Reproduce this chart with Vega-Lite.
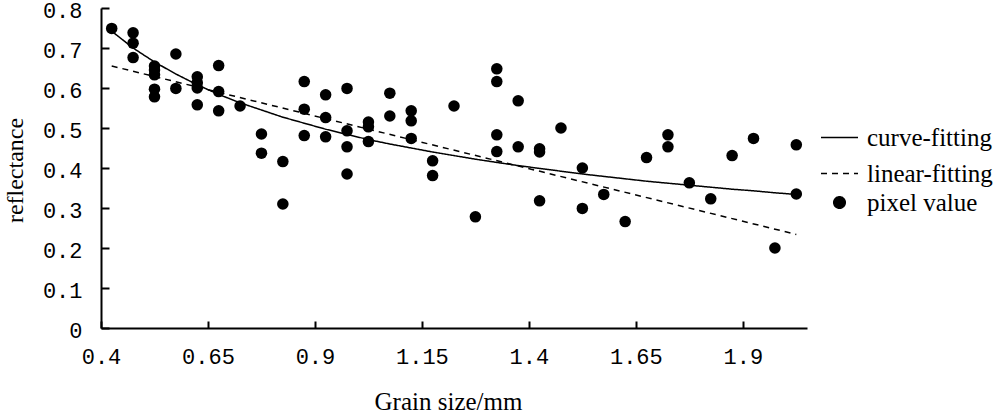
{
  "$schema": "https://vega.github.io/schema/vega-lite/v6.json",
  "autosize": "none",
  "width": 706,
  "height": 320,
  "padding": {"left": 101, "top": 8, "right": 193, "bottom": 88},
  "background": "white",
  "config": {"view": {"stroke": null}},
  "datasets": {
    "pts": [
      {"g": 0.4, "r": 0.749, "series": "pixel value"},
      {"g": 0.45, "r": 0.738, "series": "pixel value"},
      {"g": 0.45, "r": 0.712, "series": "pixel value"},
      {"g": 0.45, "r": 0.676, "series": "pixel value"},
      {"g": 0.5, "r": 0.655, "series": "pixel value"},
      {"g": 0.5, "r": 0.645, "series": "pixel value"},
      {"g": 0.5, "r": 0.633, "series": "pixel value"},
      {"g": 0.5, "r": 0.597, "series": "pixel value"},
      {"g": 0.5, "r": 0.578, "series": "pixel value"},
      {"g": 0.55, "r": 0.685, "series": "pixel value"},
      {"g": 0.55, "r": 0.599, "series": "pixel value"},
      {"g": 0.6, "r": 0.628, "series": "pixel value"},
      {"g": 0.6, "r": 0.613, "series": "pixel value"},
      {"g": 0.6, "r": 0.6, "series": "pixel value"},
      {"g": 0.6, "r": 0.558, "series": "pixel value"},
      {"g": 0.65, "r": 0.656, "series": "pixel value"},
      {"g": 0.65, "r": 0.591, "series": "pixel value"},
      {"g": 0.65, "r": 0.543, "series": "pixel value"},
      {"g": 0.7, "r": 0.555, "series": "pixel value"},
      {"g": 0.75, "r": 0.485, "series": "pixel value"},
      {"g": 0.75, "r": 0.437, "series": "pixel value"},
      {"g": 0.8, "r": 0.416, "series": "pixel value"},
      {"g": 0.8, "r": 0.31, "series": "pixel value"},
      {"g": 0.85, "r": 0.616, "series": "pixel value"},
      {"g": 0.85, "r": 0.547, "series": "pixel value"},
      {"g": 0.85, "r": 0.481, "series": "pixel value"},
      {"g": 0.9, "r": 0.583, "series": "pixel value"},
      {"g": 0.9, "r": 0.526, "series": "pixel value"},
      {"g": 0.9, "r": 0.478, "series": "pixel value"},
      {"g": 0.95, "r": 0.599, "series": "pixel value"},
      {"g": 0.95, "r": 0.493, "series": "pixel value"},
      {"g": 0.95, "r": 0.453, "series": "pixel value"},
      {"g": 0.95, "r": 0.385, "series": "pixel value"},
      {"g": 1.0, "r": 0.515, "series": "pixel value"},
      {"g": 1.0, "r": 0.503, "series": "pixel value"},
      {"g": 1.0, "r": 0.466, "series": "pixel value"},
      {"g": 1.05, "r": 0.587, "series": "pixel value"},
      {"g": 1.05, "r": 0.53, "series": "pixel value"},
      {"g": 1.1, "r": 0.543, "series": "pixel value"},
      {"g": 1.1, "r": 0.518, "series": "pixel value"},
      {"g": 1.1, "r": 0.474, "series": "pixel value"},
      {"g": 1.15, "r": 0.418, "series": "pixel value"},
      {"g": 1.15, "r": 0.381, "series": "pixel value"},
      {"g": 1.2, "r": 0.555, "series": "pixel value"},
      {"g": 1.25, "r": 0.278, "series": "pixel value"},
      {"g": 1.3, "r": 0.648, "series": "pixel value"},
      {"g": 1.3, "r": 0.616, "series": "pixel value"},
      {"g": 1.3, "r": 0.483, "series": "pixel value"},
      {"g": 1.3, "r": 0.441, "series": "pixel value"},
      {"g": 1.35, "r": 0.568, "series": "pixel value"},
      {"g": 1.35, "r": 0.453, "series": "pixel value"},
      {"g": 1.4, "r": 0.448, "series": "pixel value"},
      {"g": 1.4, "r": 0.44, "series": "pixel value"},
      {"g": 1.4, "r": 0.318, "series": "pixel value"},
      {"g": 1.45, "r": 0.5, "series": "pixel value"},
      {"g": 1.5, "r": 0.4, "series": "pixel value"},
      {"g": 1.5, "r": 0.299, "series": "pixel value"},
      {"g": 1.55, "r": 0.334, "series": "pixel value"},
      {"g": 1.6, "r": 0.266, "series": "pixel value"},
      {"g": 1.65, "r": 0.426, "series": "pixel value"},
      {"g": 1.7, "r": 0.483, "series": "pixel value"},
      {"g": 1.7, "r": 0.453, "series": "pixel value"},
      {"g": 1.75, "r": 0.363, "series": "pixel value"},
      {"g": 1.8, "r": 0.323, "series": "pixel value"},
      {"g": 1.85, "r": 0.431, "series": "pixel value"},
      {"g": 1.9, "r": 0.474, "series": "pixel value"},
      {"g": 1.95, "r": 0.2, "series": "pixel value"},
      {"g": 2.0, "r": 0.458, "series": "pixel value"},
      {"g": 2.0, "r": 0.335, "series": "pixel value"}
    ],
    "fits": [
      {"g": 0.4, "r": 0.742, "series": "curve-fitting"},
      {"g": 0.45, "r": 0.7, "series": "curve-fitting"},
      {"g": 0.5, "r": 0.665, "series": "curve-fitting"},
      {"g": 0.55, "r": 0.635, "series": "curve-fitting"},
      {"g": 0.6, "r": 0.608, "series": "curve-fitting"},
      {"g": 0.65, "r": 0.584, "series": "curve-fitting"},
      {"g": 0.7, "r": 0.563, "series": "curve-fitting"},
      {"g": 0.75, "r": 0.545, "series": "curve-fitting"},
      {"g": 0.8, "r": 0.527, "series": "curve-fitting"},
      {"g": 0.85, "r": 0.512, "series": "curve-fitting"},
      {"g": 0.9, "r": 0.497, "series": "curve-fitting"},
      {"g": 0.95, "r": 0.484, "series": "curve-fitting"},
      {"g": 1.0, "r": 0.471, "series": "curve-fitting"},
      {"g": 1.05, "r": 0.46, "series": "curve-fitting"},
      {"g": 1.1, "r": 0.45, "series": "curve-fitting"},
      {"g": 1.15, "r": 0.44, "series": "curve-fitting"},
      {"g": 1.2, "r": 0.431, "series": "curve-fitting"},
      {"g": 1.25, "r": 0.422, "series": "curve-fitting"},
      {"g": 1.3, "r": 0.414, "series": "curve-fitting"},
      {"g": 1.35, "r": 0.406, "series": "curve-fitting"},
      {"g": 1.4, "r": 0.399, "series": "curve-fitting"},
      {"g": 1.45, "r": 0.392, "series": "curve-fitting"},
      {"g": 1.5, "r": 0.385, "series": "curve-fitting"},
      {"g": 1.55, "r": 0.379, "series": "curve-fitting"},
      {"g": 1.6, "r": 0.373, "series": "curve-fitting"},
      {"g": 1.65, "r": 0.367, "series": "curve-fitting"},
      {"g": 1.7, "r": 0.362, "series": "curve-fitting"},
      {"g": 1.75, "r": 0.357, "series": "curve-fitting"},
      {"g": 1.8, "r": 0.352, "series": "curve-fitting"},
      {"g": 1.85, "r": 0.347, "series": "curve-fitting"},
      {"g": 1.9, "r": 0.343, "series": "curve-fitting"},
      {"g": 1.95, "r": 0.338, "series": "curve-fitting"},
      {"g": 2.0, "r": 0.334, "series": "curve-fitting"},
      {"g": 0.4, "r": 0.655, "series": "linear-fitting"},
      {"g": 2.0, "r": 0.234, "series": "linear-fitting"}
    ]
  },
  "encoding": {
    "x": {
      "field": "g", "type": "quantitative",
      "scale": {"domain": [0.375, 2.025], "nice": false, "zero": false},
      "axis": {
        "title": "Grain size/mm",
        "values": [0.4, 0.65, 0.9, 1.15, 1.4, 1.65, 1.9],
        "format": ".2~f",
        "grid": false,
        "domainColor": "black", "domainWidth": 2,
        "tickColor": "black", "tickWidth": 2, "tickSize": -7, "tickOffset": -10.7,
        "labelFont": "Liberation Mono", "labelFontSize": 22, "labelColor": "black",
        "labelPadding": 25, "labelFlush": false, "labelOverlap": false,
        "titleFont": "Liberation Serif", "titleFontSize": 25, "titleFontWeight": "normal", "titleColor": "black",
        "titleX": 347, "titleY": 81, "titleBaseline": "alphabetic"
      }
    },
    "y": {
      "field": "r", "type": "quantitative",
      "scale": {"domain": [0, 0.8], "nice": false},
      "axis": {
        "title": "reflectance",
        "values": [0, 0.1, 0.2, 0.3, 0.4, 0.5, 0.6, 0.7, 0.8],
        "format": ".1~f",
        "grid": false,
        "domainColor": "black", "domainWidth": 2,
        "tickColor": "black", "tickWidth": 2, "tickSize": -8,
        "labelFont": "Liberation Mono", "labelFontSize": 22, "labelColor": "black",
        "labelPadding": 27, "labelOffset": 2, "labelFlush": false, "labelOverlap": false, "labelBound": false,
        "titleFont": "Liberation Serif", "titleFontSize": 24, "titleFontWeight": "normal", "titleColor": "black",
        "titleX": -86, "titleY": 162, "titleAngle": -90, "titleAlign": "center", "titleBaseline": "middle"
      }
    }
  },
  "layer": [
    {
      "data": {"name": "fits"},
      "mark": {"type": "line", "color": "black", "strokeWidth": 1.5},
      "encoding": {
        "strokeDash": {
          "field": "series", "type": "nominal",
          "scale": {"domain": ["curve-fitting", "linear-fitting", "pixel value"], "range": [[1, 0], [6, 5], [1, 0]]},
          "legend": {
            "title": null, "orient": "none", "legendX": 719, "legendY": 110,
            "labelFont": "Liberation Serif", "labelFontSize": 25, "labelColor": "black",
            "labelOffset": 8, "rowPadding": 3, "gridAlign": "all",
            "symbolFillColor": "black", "symbolStrokeColor": "black", "symbolStrokeWidth": 1.5,
            "encode": {"symbols": {"enter": {"fill": {"value": "black"}, "fillOpacity": {"value": 1}}, "update": {"stroke": {"value": "black"}, "fill": {"value": "black"}, "fillOpacity": {"value": 1}, "strokeWidth": {"value": 1.5}}}}
          }
        }
      }
    },
    {
      "data": {"name": "pts"},
      "mark": {"type": "point", "filled": true, "color": "black", "opacity": 1},
      "encoding": {
        "shape": {
          "field": "series", "type": "nominal",
          "scale": {"domain": ["curve-fitting", "linear-fitting", "pixel value"], "range": ["stroke", "stroke", "circle"]},
          "legend": {
            "title": null, "orient": "none", "legendX": 719, "legendY": 110,
            "labelFont": "Liberation Serif", "labelFontSize": 25, "labelColor": "black",
            "labelOffset": 8, "rowPadding": 3, "gridAlign": "all",
            "symbolFillColor": "black", "symbolStrokeColor": "black", "symbolStrokeWidth": 1.5,
            "encode": {"symbols": {"enter": {"fill": {"value": "black"}, "fillOpacity": {"value": 1}}, "update": {"stroke": {"value": "black"}, "fill": {"value": "black"}, "fillOpacity": {"value": 1}, "strokeWidth": {"value": 1.5}}}}
          }
        },
        "size": {
          "field": "series", "type": "nominal",
          "scale": {"type": "ordinal", "domain": ["curve-fitting", "linear-fitting", "pixel value"], "range": [1369, 1369, 133]},
          "legend": {
            "title": null, "orient": "none", "legendX": 719, "legendY": 110,
            "labelFont": "Liberation Serif", "labelFontSize": 25, "labelColor": "black",
            "labelOffset": 8, "rowPadding": 3, "gridAlign": "all",
            "symbolFillColor": "black", "symbolStrokeColor": "black", "symbolStrokeWidth": 1.5,
            "encode": {"symbols": {"enter": {"fill": {"value": "black"}, "fillOpacity": {"value": 1}}, "update": {"stroke": {"value": "black"}, "fill": {"value": "black"}, "fillOpacity": {"value": 1}, "strokeWidth": {"value": 1.5}}}}
          }
        }
      }
    }
  ]
}
